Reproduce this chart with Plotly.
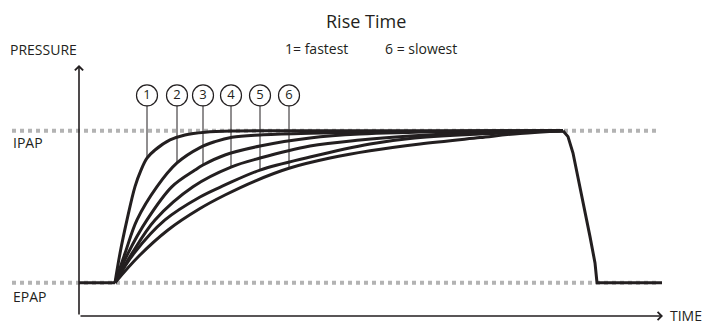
import plotly.graph_objects as go

INK = "#231f20"
GUIDE = "#b3b3b3"
FONT = "Open Sans"

# pressure levels (cmH2O) and time (s, 0 = start of inspiration)
EPAP = 5.0
IPAP = 15.0

# rise curves, 1 = fastest ... 6 = slowest
c1_t = [0, 0.05, 0.12, 0.2, 0.26, 0.32, 0.4, 0.55, 0.7, 0.9, 1.17, 1.85, 4.48]
c1_p = [5, 6.93, 9.13, 11.32, 12.41, 13.2, 13.73, 14.39, 14.72, 14.9, 14.98, 15, 15]

c2_t = [0, 0.1, 0.22, 0.42, 0.62, 0.85, 1.0, 1.17, 1.45, 1.95, 2.85, 4.48]
c2_p = [5, 6.93, 9.13, 11.32, 12.88, 13.89, 14.28, 14.57, 14.72, 14.83, 14.95, 15]

c3_t = [0, 0.13, 0.32, 0.57, 0.8, 0.88, 1.1, 1.45, 1.95, 2.45, 3.35, 4.48]
c3_p = [5, 6.93, 9.13, 11.32, 12.41, 12.74, 13.4, 13.99, 14.52, 14.78, 14.95, 15]

c4_t = [0, 0.17, 0.4, 0.78, 1.16, 1.45, 1.95, 2.45, 2.95, 3.65, 4.48]
c4_p = [5, 6.93, 9.13, 11.32, 12.61, 13.2, 13.99, 14.39, 14.65, 14.88, 15]

c5_t = [0, 0.19, 0.5, 0.85, 1.1, 1.45, 1.95, 2.55, 2.95, 3.65, 4.48]
c5_p = [5, 6.93, 9.13, 10.64, 11.43, 12.41, 13.27, 14.13, 14.49, 14.78, 15]

c6_t = [0, 0.24, 0.53, 0.85, 1.1, 1.4, 1.74, 2.15, 2.55, 3.05, 3.65, 4.05, 4.48]
c6_p = [5, 6.76, 8.47, 9.88, 10.77, 11.69, 12.53, 13.2, 13.68, 14.13, 14.55, 14.82, 15]

# baseline before the trigger and the exhalation drop
pre_t = [-0.36, 0.0]
pre_p = [EPAP, EPAP]
exh_t = [4.48, 4.53, 4.58, 4.63, 4.68, 4.75, 4.80, 4.82, 5.47]
exh_p = [15, 14.61, 13.53, 11.97, 10.24, 8.03, 6.30, 5.0, 5.0]

# numbered callouts: where each leader meets its curve
label_names = ["1", "2", "3", "4", "5", "6"]
label_t = [0.32, 0.62, 0.88, 1.16, 1.45, 1.74]
label_hit_p = [13.2, 12.88, 12.74, 12.61, 12.41, 12.53]
label_p = 17.32

guide_t = [-1.03, 5.43]

# axis arrows
axis_t0, axis_t1 = -0.36, 5.48
axis_p0, axis_p1 = 2.81, 19.32

curves = [(c1_t, c1_p), (c2_t, c2_p), (c3_t, c3_p), (c4_t, c4_p), (c5_t, c5_p), (c6_t, c6_p)]

fig = go.Figure()

for level in (IPAP, EPAP):
    fig.add_trace(
        go.Scatter(
            x=guide_t, y=[level, level], mode="lines",
            line=dict(color=GUIDE, width=4, dash="4px,4px"), hoverinfo="skip",
        )
    )

lead_x, lead_y = [], []
for t, p in zip(label_t, label_hit_p):
    lead_x += [t, t, None]
    lead_y += [label_p, p, None]
fig.add_trace(
    go.Scatter(x=lead_x, y=lead_y, mode="lines", line=dict(color=INK, width=1), hoverinfo="skip")
)

for t, p in curves:
    fig.add_trace(
        go.Scatter(x=t, y=p, mode="lines", line=dict(color=INK, width=3, shape="spline"))
    )

fig.add_trace(go.Scatter(x=pre_t, y=pre_p, mode="lines", line=dict(color=INK, width=3)))
fig.add_trace(go.Scatter(x=exh_t, y=exh_p, mode="lines", line=dict(color=INK, width=3)))

fig.add_trace(
    go.Scatter(
        x=label_t, y=[label_p] * len(label_t), mode="markers+text", text=label_names,
        textposition="middle center", textfont=dict(family=FONT, size=13, color=INK),
        marker=dict(size=21, color="white", line=dict(color=INK, width=1.2)),
    )
)

# axis lines with open arrow heads
fig.add_annotation(
    x=axis_t0, y=axis_p1, ax=axis_t0, ay=axis_p0, xref="x", yref="y", axref="x", ayref="y",
    text="", showarrow=True, arrowhead=4, arrowsize=1, arrowwidth=1.6, arrowcolor=INK,
)
fig.add_annotation(
    x=axis_t1, y=axis_p0, ax=axis_t0, ay=axis_p0, xref="x", yref="y", axref="x", ayref="y",
    text="", showarrow=True, arrowhead=4, arrowsize=1, arrowwidth=1.6, arrowcolor=INK,
)

labels = [
    ("Rise Time", 0.519, 0.935, "center", 18),
    ("1= fastest", 0.401, 0.852, "left", 14),
    ("6 = slowest", 0.543, 0.852, "left", 14),
    ("PRESSURE", 0.012, 0.849, "left", 14),
    ("IPAP", 0.015, 0.563, "left", 14),
    ("EPAP", 0.015, 0.089, "left", 14),
    ("TIME", 0.999, 0.028, "right", 14),
]
for text, x, y, anchor, size in labels:
    fig.add_annotation(
        x=x, y=y, xref="paper", yref="paper", text=text, showarrow=False,
        xanchor=anchor, yanchor="middle", font=dict(family=FONT, size=size, color=INK),
    )

fig.update_layout(
    width=705, height=325,
    margin=dict(l=0, r=0, t=0, b=0),
    paper_bgcolor="white", plot_bgcolor="white",
    showlegend=False,
    hovermode=False,
    xaxis=dict(range=[-1.15, 5.9], visible=False, fixedrange=True),
    yaxis=dict(range=[2.217, 23.599], visible=False, fixedrange=True),
)

# drop the page's default body margin so the figure sits at the window corner
fig.write_html(
    "out.html",
    config={"displayModeBar": False},
    post_script="document.body.style.margin = '0';",
)
